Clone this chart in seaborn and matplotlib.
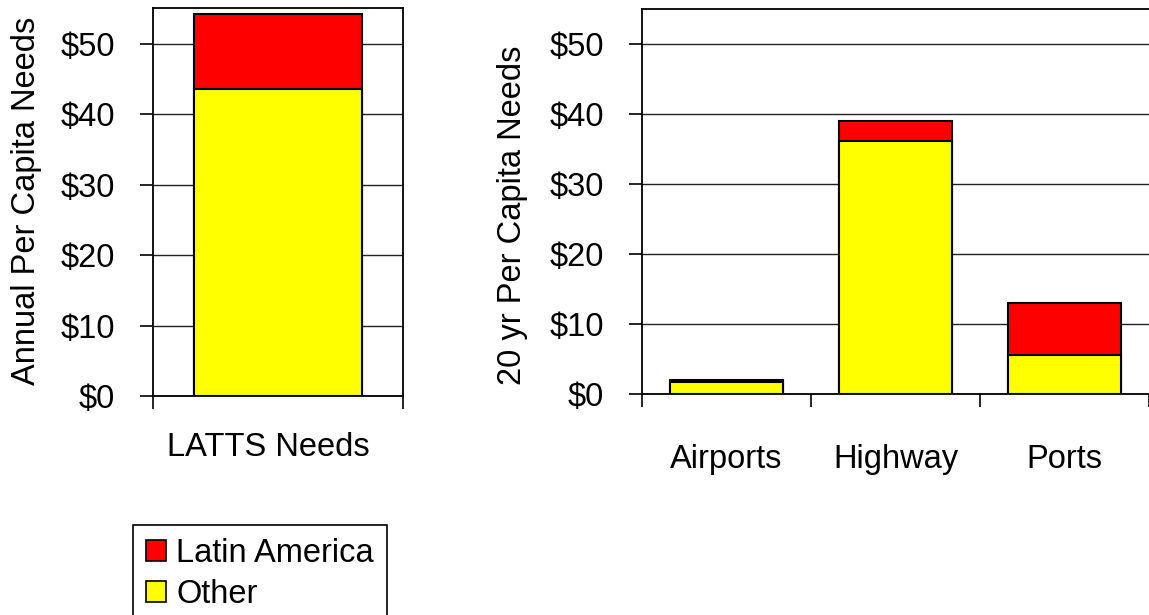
import matplotlib
matplotlib.use("Agg")
import matplotlib.pyplot as plt
import matplotlib.transforms as mtransforms
import seaborn as sns
import numpy as np
from matplotlib.patches import Patch

sns.set_theme(style="white")
plt.rcParams['font.family'] = ['Liberation Sans', 'DejaVu Sans']
plt.rcParams['text.color'] = 'black'
plt.rcParams['xtick.color'] = 'black'
plt.rcParams['ytick.color'] = 'black'
plt.rcParams['xtick.labelcolor'] = 'black'
plt.rcParams['ytick.labelcolor'] = 'black'

# ---- data ----
left_categories = ["LATTS Needs"]
left_other = [43.6]
left_latin = [10.7]

right_categories = ["Airports", "Highway", "Ports"]
right_other = [1.7, 36.2, 5.6]
right_latin = [0.3, 2.8, 7.4]

series_names = ["Latin America", "Other"]
series_colors = ["#FF0000", "#FFFF00"]
yticks = [0, 10, 20, 30, 40, 50]
ytick_labels = ["$0", "$10", "$20", "$30", "$40", "$50"]

FS = 23.5
W, H = 1149, 615
fig = plt.figure(figsize=(W / 100, H / 100), dpi=100)
fig.patch.set_facecolor("white")

def px_axes(x0, y0, x1, y1):
    return fig.add_axes([x0 / W, (H - y1) / H, (x1 - x0) / W, (y1 - y0) / H])

axL = px_axes(153, 8, 403, 396)
axR = px_axes(642, 9, 1149, 394)

def draw(ax, cats, other, latin, ymax, label_pad):
    totals = [o + l for o, l in zip(other, latin)]
    sns.barplot(x=cats, y=totals, color=series_colors[0], width=0.67,
                edgecolor="black", linewidth=1.5, ax=ax, zorder=3, saturation=1)
    sns.barplot(x=cats, y=other, color=series_colors[1], width=0.67,
                edgecolor="black", linewidth=1.5, ax=ax, zorder=4, saturation=1)
    n = len(cats)
    ax.set_xlim(-0.5, n - 0.5)
    ax.set_ylim(0, ymax)
    ax.set_yticks(yticks)
    ax.set_yticklabels(ytick_labels, fontsize=FS, color="black")
    ax.yaxis.grid(True, color="#222222", linewidth=1.0, zorder=0)
    ax.set_axisbelow(True)
    ax.xaxis.grid(False)
    ax.set_xticks(range(n))
    ax.set_xticklabels(cats, fontsize=FS, color="black")
    ax.set_xticks(np.arange(-0.5, n, 1.0), minor=True)
    ax.tick_params(axis="x", which="major", length=0, pad=label_pad, bottom=True)
    ax.tick_params(axis="x", which="minor", length=9, width=1.2, color="black",
                   direction="out", bottom=True)
    ax.tick_params(axis="y", which="major", length=9.5, width=1.2, color="black",
                   direction="out", pad=18, left=True)
    ax.set_xlabel("")
    ax.set_ylabel("")
    for s in ax.spines.values():
        s.set_color("black")
        s.set_linewidth(1.3)

draw(axL, left_categories, left_other, left_latin, 55.1, 26)
draw(axR, right_categories, right_other, right_latin, 55.0, 36)
axR.spines["right"].set_visible(False)

# the left category label sits a little left of the bar centre in the reference
shift = mtransforms.ScaledTranslation(-10 / 100, 0, fig.dpi_scale_trans)
for lab in axL.get_xticklabels():
    lab.set_transform(lab.get_transform() + shift)

fig.text(27 / W, 1 - 201 / H, "Annual Per Capita Needs", rotation=90,
         ha="center", va="center", fontsize=FS, color="black")
fig.text(513 / W, 1 - 215 / H, "20 yr Per Capita Needs", rotation=90,
         ha="center", va="center", fontsize=FS, color="black")

handles = [Patch(facecolor=c, edgecolor="black", linewidth=1.2) for c in series_colors]
leg = fig.legend(handles, series_names, loc="upper left",
                 bbox_to_anchor=(133 / W, 1 - 525 / H), bbox_transform=fig.transFigure,
                 fontsize=FS, frameon=True, fancybox=False, shadow=False,
                 borderaxespad=0, handlelength=0.62, handleheight=0.62,
                 handletextpad=0.3, labelspacing=0.3, borderpad=0.4)
leg.get_frame().set_edgecolor("black")
leg.get_frame().set_linewidth(1.2)
leg.get_frame().set_alpha(1)
for t in leg.get_texts():
    t.set_color("black")

fig.savefig("out.png", dpi=100)
